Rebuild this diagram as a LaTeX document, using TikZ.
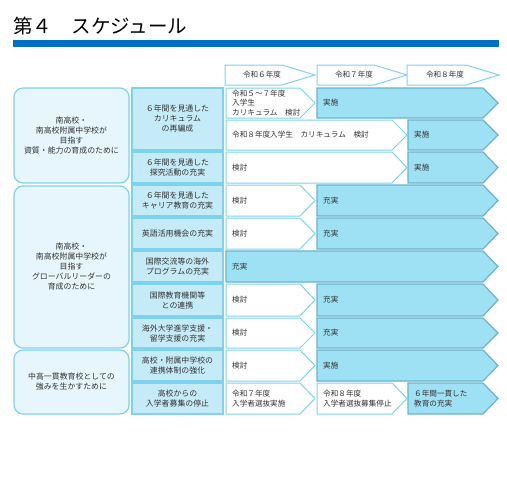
\documentclass[tikz,border=0pt]{standalone}
\usepackage{fontspec}
\setmainfont{Noto Sans CJK JP}
\usetikzlibrary{positioning}
\definecolor{barblue}{HTML}{0070C0}
\definecolor{edgecyan}{HTML}{7DD2F0}
\definecolor{fillcyan}{HTML}{9EE0F4}
\definecolor{midcyan}{HTML}{C6EBF8}
\definecolor{palecyan}{HTML}{E6F6FC}
\definecolor{txtgray}{HTML}{333333}
\tikzset{
    txt/.style={font=\fontsize{7.6}{9.6}\selectfont,text=txtgray,inner sep=0pt},
    boxtxt/.style={txt,font=\fontsize{7.9}{10}\selectfont},
    plain/.style={draw=edgecyan,fill=white,line width=1pt},
    done/.style={draw=edgecyan!85!black,fill=fillcyan,line width=1.2pt},
    goalbox/.style={draw=edgecyan,fill=palecyan,line width=1.2pt,rounded corners=9pt},
    itembox/.style={draw=edgecyan,fill=midcyan,line width=1.2pt}
}
% style, name, left, right, top, bottom, text
\newcommand{\cellbox}[7]{%
    \node[#1,boxtxt,align=center,minimum width=#4-#3,minimum height=#6-#5]
        (#2) at ({(#3+#4)/2},{(#5+#6)/2}) {#7};
}
% style, name, left, tip, top, bottom, text
\newcommand{\planarrow}[7]{%
    \pgfmathsetmacro\pmid{(#5+#6)/2}
    \pgfmathsetmacro\pcut{#4-15}
    \draw[#1] (#3,#5) -- (\pcut,#5) -- (#4,\pmid) -- (\pcut,#6) -- (#3,#6) -- cycle;
    \node[txt,anchor=west,align=left] (#2) at (#3+6,\pmid) {#7};
}
% name, left, tip, text
\newcommand{\yeararrow}[4]{%
    \pgfmathsetmacro\pcut{#3-33}
    \pgfmathsetmacro\pctr{(#2+#3-16)/2}
    \draw[plain] (#2,65) -- (\pcut,65) -- (#3,75) -- (\pcut,85) -- (#2,85) -- cycle;
    \node[txt] (#1) at (\pctr,75) {#4};
}

\begin{document}
\begin{tikzpicture}[x=1pt,y=-1pt]
    \useasboundingbox (0,0) rectangle (507,480);
    \node[anchor=west,inner sep=0pt,font=\fontsize{19.5}{20}\selectfont] (title) at (13,26) {第４　スケジュール};
    \fill[barblue] (13,40) rectangle (499,47);

    \yeararrow{y6}{225}{315}{令和６年度}
    \yeararrow{y7}{317}{407}{令和７年度}
    \yeararrow{y8}{407}{499}{令和８年度}

    % goals
    \cellbox{goalbox}{g1}{14}{129}{88}{183}{南高校・\\南高校附属中学校が\\目指す\\資質・能力の育成のために}
    \cellbox{goalbox}{g2}{14}{129}{186}{348}{南高校・\\南高校附属中学校が\\目指す\\グローバルリーダーの\\育成のために}
    \cellbox{goalbox}{g3}{14}{129}{350}{414}{中高一貫教育校としての\\強みを生かすために}

    % measures
    \cellbox{itembox}{m1}{132}{223}{88}{150}{６年間を見通した\\カリキュラム\\の再編成}
    \cellbox{itembox}{m2}{132}{223}{152}{183}{６年間を見通した\\探究活動の充実}
    \cellbox{itembox}{m3}{132}{223}{185}{216}{６年間を見通した\\キャリア教育の充実}
    \cellbox{itembox}{m4}{132}{223}{218}{249}{英語活用機会の充実}
    \cellbox{itembox}{m5}{132}{223}{251}{282}{国際交流等の海外\\プログラムの充実}
    \cellbox{itembox}{m6}{132}{223}{284}{316}{国際教育機関等\\との連携}
    \cellbox{itembox}{m7}{132}{223}{318}{348}{海外大学進学支援・\\留学支援の充実}
    \cellbox{itembox}{m8}{132}{223}{350}{381}{高校・附属中学校の\\連携体制の強化}
    \cellbox{itembox}{m9}{132}{223}{383}{414}{高校からの\\入学者募集の停止}

    % schedule
    \planarrow{plain}{a1}{226}{315}{88}{118}{令和５～７年度\\入学生\\カリキュラム　検討}
    \planarrow{done}{b1}{317}{498}{88}{118}{実施}
    \planarrow{plain}{a1x}{226}{407}{120}{150}{令和８年度入学生　カリキュラム　検討}
    \planarrow{done}{b1x}{408}{498}{120}{150}{実施}
    \planarrow{plain}{a2}{226}{407}{152}{183}{検討}
    \planarrow{done}{b2}{408}{498}{152}{183}{実施}
    \planarrow{plain}{a3}{226}{315}{185}{216}{検討}
    \planarrow{done}{b3}{317}{498}{185}{216}{充実}
    \planarrow{plain}{a4}{226}{315}{218}{249}{検討}
    \planarrow{done}{b4}{317}{498}{218}{249}{充実}
    \planarrow{done}{b5}{226}{498}{251}{282}{充実}
    \planarrow{plain}{a6}{226}{315}{284}{316}{検討}
    \planarrow{done}{b6}{317}{498}{284}{316}{充実}
    \planarrow{plain}{a7}{226}{315}{318}{348}{検討}
    \planarrow{done}{b7}{317}{498}{318}{348}{充実}
    \planarrow{plain}{a8}{226}{315}{350}{381}{検討}
    \planarrow{done}{b8}{317}{498}{350}{381}{実施}
    \planarrow{plain}{a9}{226}{315}{383}{414}{令和７年度\\入学者選抜実施}
    \planarrow{plain}{a9x}{317}{407}{383}{414}{令和８年度\\入学者選抜募集停止}
    \planarrow{done}{b9}{408}{498}{383}{414}{６年間一貫した\\教育の充実}
\end{tikzpicture}
\end{document}
